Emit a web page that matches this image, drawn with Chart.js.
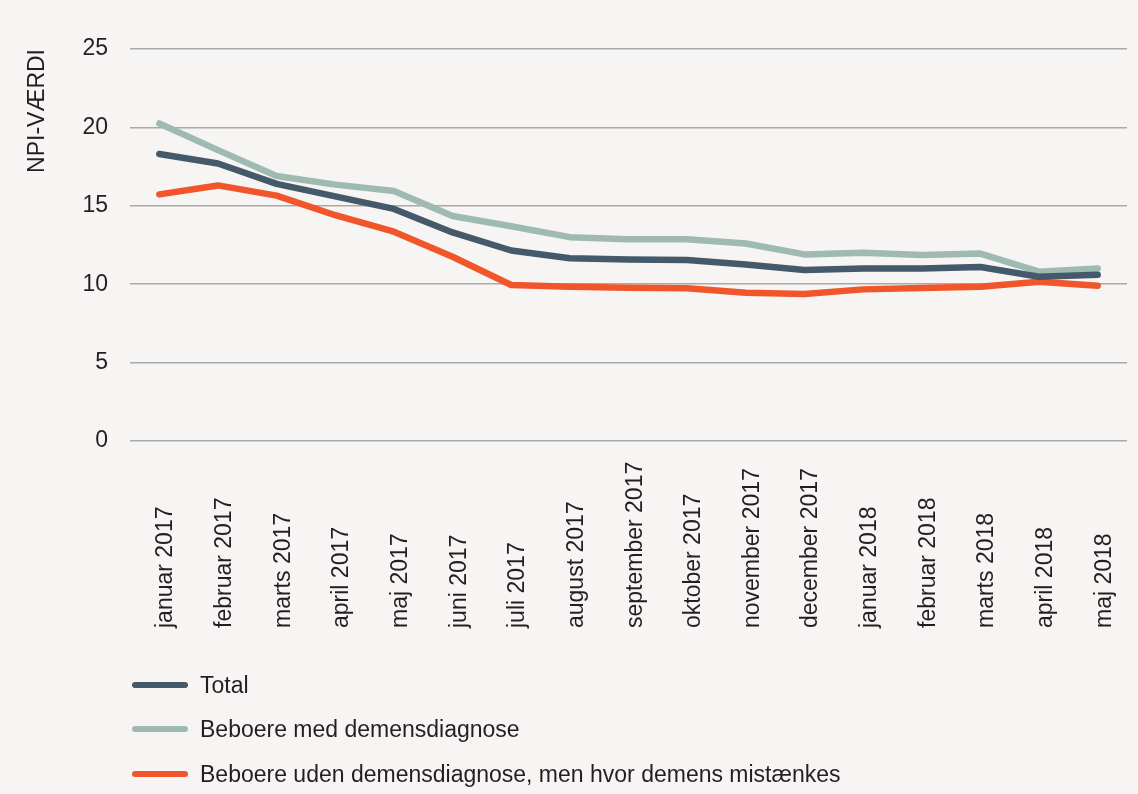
<!DOCTYPE html>
<html>
<head>
<meta charset="utf-8">
<script src="https://cdn.jsdelivr.net/npm/chart.js@4"></script>
<style>
  body { margin: 0; background: #f6f5f3; }
  #wrap { position: relative; width: 1138px; height: 794px; }
  .leg { position: absolute; left: 132px; height: 26px; display: flex; align-items: center;
         font: 23px "Liberation Sans", Arial, Helvetica, sans-serif; color: #231f20; }
  .leg span.sw { display: inline-block; width: 56px; height: 6px; border-radius: 3px; margin-right: 12px; }
</style>
</head>
<body>
<div id="wrap">
  <canvas id="myChart" width="1138" height="794"></canvas>
</div>
<script>
// colours: total #44596a, med #9fbab0, uden #f1562a

const months = [
  'januar 2017', 'februar 2017', 'marts 2017', 'april 2017', 'maj 2017', 'juni 2017',
  'juli 2017', 'august 2017', 'september 2017', 'oktober 2017', 'november 2017',
  'december 2017', 'januar 2018', 'februar 2018', 'marts 2018', 'april 2018', 'maj 2018'
];
const seriesNames = [
  'Total',
  'Beboere med demensdiagnose',
  'Beboere uden demensdiagnose, men hvor demens mistænkes'
];
const total = [18.3, 17.7, 16.4, 15.6, 14.8, 13.3, 12.15, 11.65, 11.58, 11.54, 11.25, 10.9, 11.0, 11.0, 11.1, 10.48, 10.6];
const med = [20.25, 18.55, 16.9, 16.35, 15.95, 14.35, 13.7, 13.0, 12.86, 12.86, 12.6, 11.9, 12.0, 11.86, 11.95, 10.8, 11.0];
const uden = [15.73, 16.3, 15.65, 14.4, 13.35, 11.75, 9.95, 9.84, 9.78, 9.74, 9.46, 9.38, 9.67, 9.76, 9.84, 10.16, 9.9];
const yTicks = [0, 5, 10, 15, 20, 25];
const colors = ['#44596a', '#9fbab0', '#f1562a'];

const FONT = '"Liberation Sans", Arial, Helvetica, sans-serif';
const TEXT = '#231f20';

function lineSet(label, data, color) {
  return {
    label: label,
    data: data,
    borderColor: color,
    backgroundColor: color,
    borderWidth: 6.5,
    pointRadius: 0,
    borderCapStyle: 'round',
    borderJoinStyle: 'round',
    tension: 0,
    fill: false
  };
}

// month labels written bottom-up, starting from a common baseline
const xLabels = {
  id: 'xLabels',
  afterDraw(chart) {
    const ctx = chart.ctx;
    const x = chart.scales.x;
    ctx.save();
    ctx.font = '23px ' + FONT;
    ctx.fillStyle = TEXT;
    ctx.textAlign = 'left';
    ctx.textBaseline = 'alphabetic';
    chart.data.labels.forEach((lab, i) => {
      const px = x.getPixelForValue(i);
      ctx.save();
      ctx.translate(px + 13, 628);
      ctx.rotate(-Math.PI / 2);
      ctx.fillText(lab, 0, 0);
      ctx.restore();
    });
    ctx.restore();
  }
};

const ctx = document.getElementById('myChart');

new Chart(ctx, {
  type: 'line',
  data: {
    labels: months,
    datasets: [
      lineSet(seriesNames[0], total, colors[0]),
      lineSet(seriesNames[1], med, colors[1]),
      lineSet(seriesNames[2], uden, colors[2])
    ]
  },
  options: {
    responsive: false,
    animation: false,
    layout: { padding: { top: 49, right: 11, bottom: 0, left: 0 } },
    scales: {
      x: {
        offset: true,
        grid: { display: false },
        border: { display: false },
        ticks: { display: false },
        afterFit(scale) { scale.height = 353; }
      },
      y: {
        min: 0,
        max: 25,
        afterBuildTicks(scale) { scale.ticks = yTicks.map(v => ({ value: v })); },
        afterFit(scale) { scale.width = 130; },
        grid: { color: '#a9a9a9', lineWidth: 1.5, drawTicks: false },
        border: { display: false },
        ticks: {
          padding: 22,
          color: TEXT,
          font: { size: 23, family: FONT }
        },
        title: {
          display: true,
          text: 'NPI-VÆRDI',
          align: 'end',
          color: TEXT,
          padding: { top: 24 },
          font: { size: 23, family: FONT }
        }
      }
    },
    plugins: {
      legend: { display: false },
      tooltip: { enabled: false }
    }
  },
  plugins: [xLabels]
});

// legend as a vertical list under the chart
const wrap = document.getElementById('wrap');
const legTops = [672, 716, 761];
seriesNames.forEach((name, i) => {
  const d = document.createElement('div');
  d.className = 'leg';
  d.style.top = legTops[i] + 'px';
  const sw = document.createElement('span');
  sw.className = 'sw';
  sw.style.background = colors[i];
  d.appendChild(sw);
  d.appendChild(document.createTextNode(name));
  wrap.appendChild(d);
});
</script>
</body>
</html>
